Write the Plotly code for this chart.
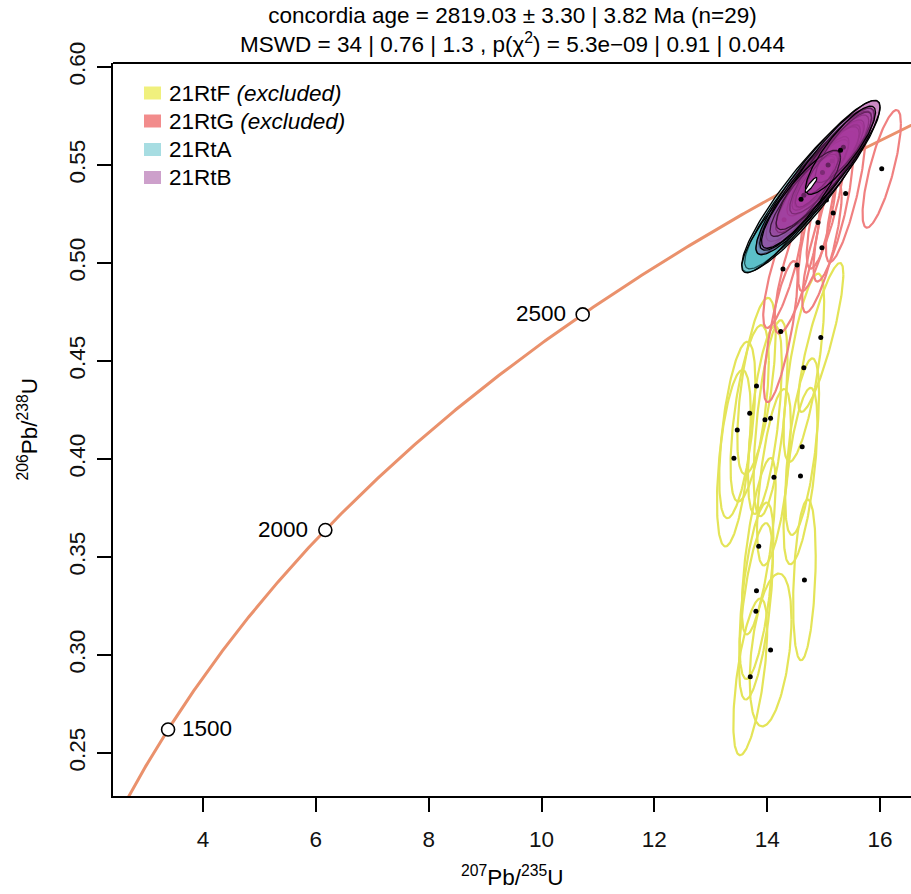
import numpy as np
import plotly.graph_objects as go

# ---------------- data ----------------
# U decay constants (1/yr) used for the concordia curve
LAMBDA_238 = 1.55125e-10
LAMBDA_235 = 9.8485e-10
concordia_span_ma = [1300, 2950]
age_ticks = [1500, 2000, 2500]
age_label_side = ["right", "left", "left"]

# 21RtF (excluded): 207Pb/235U, half-width, 206Pb/238U, half-height, rho
F_x   = [14.95, 14.65, 13.81, 13.69, 13.96, 14.06, 13.47, 14.62, 13.41, 14.12, 14.59, 13.85, 14.66, 13.81, 13.80, 14.06, 13.70]
F_sx  = [0.40, 0.36, 0.34, 0.34, 0.30, 0.30, 0.32, 0.30, 0.30, 0.30, 0.30, 0.30, 0.20, 0.30, 0.30, 0.37, 0.30]
F_y   = [0.4620, 0.4466, 0.4372, 0.4233, 0.4200, 0.4208, 0.4148, 0.4063, 0.4004, 0.3907, 0.3913, 0.3555, 0.3383, 0.3328, 0.3223, 0.3026, 0.2889]
F_sy  = [0.038, 0.048, 0.045, 0.045, 0.048, 0.050, 0.045, 0.045, 0.045, 0.045, 0.045, 0.045, 0.041, 0.045, 0.045, 0.039, 0.040]
F_rho = [0.85, 0.70, 0.60, 0.60, 0.60, 0.60, 0.55, 0.60, 0.50, 0.60, 0.60, 0.70, 0.30, 0.60, 0.60, 0.40, 0.60]

# 21RtG (excluded)
G_x   = [16.03, 15.39, 15.05, 15.17, 14.90, 14.97, 14.28, 14.53, 14.24]
G_sx  = [0.34, 0.35, 0.35, 0.35, 0.35, 0.35, 0.35, 0.40, 0.30]
G_y   = [0.5480, 0.5354, 0.5321, 0.5255, 0.5206, 0.5077, 0.4969, 0.4990, 0.4650]
G_sy  = [0.030, 0.035, 0.035, 0.035, 0.035, 0.033, 0.030, 0.035, 0.036]
G_rho = [0.77, 0.80, 0.80, 0.80, 0.80, 0.80, 0.80, 0.80, 0.77]

# 21RtA
A_x   = [14.72, 14.65, 14.40, 14.85, 14.95, 14.60, 15.05, 14.78, 14.50, 15.10, 14.88, 14.30, 15.00]
A_sx  = [1.17, 1.05, 0.55, 0.62, 0.45, 0.50, 0.40, 0.80, 0.70, 0.55, 0.35, 0.75, 0.65]
A_y   = [0.5372, 0.5345, 0.5270, 0.5416, 0.5450, 0.5330, 0.5495, 0.5390, 0.5295, 0.5510, 0.5425, 0.5220, 0.5470]
A_sy  = [0.0418, 0.0375, 0.0200, 0.0220, 0.0170, 0.0180, 0.0150, 0.0280, 0.0250, 0.0200, 0.0130, 0.0270, 0.0230]
A_rho = [0.91, 0.91, 0.86, 0.86, 0.83, 0.85, 0.82, 0.88, 0.88, 0.86, 0.80, 0.88, 0.87]

# 21RtB
B_x   = [14.90, 15.00, 15.10, 15.20, 14.94, 15.05, 14.75, 15.25, 14.85, 15.15, 14.65, 15.35, 14.98, 15.08, 14.60, 15.30]
B_sx  = [1.10, 0.85, 0.62, 0.45, 0.50, 0.40, 0.88, 0.55, 0.35, 0.75, 0.60, 0.50, 0.30, 0.92, 0.70, 0.62]
B_y   = [0.5435, 0.5465, 0.5505, 0.5535, 0.5449, 0.5495, 0.5380, 0.5555, 0.5415, 0.5520, 0.5345, 0.5590, 0.5462, 0.5500, 0.5325, 0.5575]
B_sy  = [0.0393, 0.0310, 0.0225, 0.0170, 0.0180, 0.0150, 0.0315, 0.0200, 0.0130, 0.0270, 0.0210, 0.0180, 0.0110, 0.0330, 0.0250, 0.0225]
B_rho = [0.91, 0.90, 0.86, 0.83, 0.85, 0.82, 0.89, 0.85, 0.80, 0.88, 0.86, 0.84, 0.78, 0.90, 0.86, 0.86]

# concordia-age ellipse
C_x, C_sx, C_y, C_sy, C_rho = 14.776, 0.106, 0.5398, 0.0038, 0.90

groups = ["21RtF", "21RtG", "21RtA", "21RtB"]
group_excluded = [True, True, False, False]

title_lines = ["concordia age = 2819.03 \u00b1 3.30 | 3.82 Ma (n=29)",
               "MSWD = 34 | 0.76 | 1.3 , p(\u03c7<sup>2</sup>) = 5.3e\u221209 | 0.91 | 0.044"]

x_ticks = [4, 6, 8, 10, 12, 14, 16]
y_ticks = [0.25, 0.30, 0.35, 0.40, 0.45, 0.50, 0.55, 0.60]
y_tick_text = ["0.25", "0.30", "0.35", "0.40", "0.45", "0.50", "0.55", "0.60"]

# ---------------- styling ----------------
FONT = "Liberation Sans, Arial, sans-serif"
FS = 22.5
W, H = 911, 894
ML, MR, MT, MB = 113, 0, 63, 98
X_RANGE = [2.405, 16.549]
Y_RANGE = [0.2281, 0.6020]

col_F_line = "rgb(228,228,88)"
col_G_line = "rgb(240,128,128)"
col_A_fill = "rgba(60,180,190,0.45)"
col_B_fill = "rgba(168,58,158,0.36)"
legend_cols = ["rgb(240,240,125)", "rgb(242,140,140)", "rgb(167,221,226)", "rgb(205,160,203)"]
curve_col = "rgb(234,145,108)"


def ellipse(cx, ax, cy, ay, rho, n=160):
    t = np.linspace(0, 2 * np.pi, n)
    phi = np.arccos(rho)
    return cx + ax * np.cos(t), cy + ay * np.cos(t - phi)


fig = go.Figure()

# concordia curve
ages = np.linspace(concordia_span_ma[0], concordia_span_ma[1], 400) * 1e6
cx_curve = np.exp(LAMBDA_235 * ages) - 1
cy_curve = np.exp(LAMBDA_238 * ages) - 1
fig.add_trace(go.Scatter(x=cx_curve, y=cy_curve, mode="lines",
                         line=dict(color=curve_col, width=3), hoverinfo="skip", showlegend=False))

# excluded outlines
for xs, sxs, ys, sys_, rhos, col in [(F_x, F_sx, F_y, F_sy, F_rho, col_F_line),
                                     (G_x, G_sx, G_y, G_sy, G_rho, col_G_line)]:
    for cx, sx, cy, sy, r in zip(xs, sxs, ys, sys_, rhos):
        ex, ey = ellipse(cx, sx, cy, sy, r)
        fig.add_trace(go.Scatter(x=ex, y=ey, mode="lines", line=dict(color=col, width=2.2),
                                 hoverinfo="skip", showlegend=False))
    fig.add_trace(go.Scatter(x=xs, y=ys, mode="markers",
                             marker=dict(color="black", size=5), hoverinfo="skip", showlegend=False))

# included filled ellipses, each followed by its centre dot
for xs, sxs, ys, sys_, rhos, fc in [(A_x, A_sx, A_y, A_sy, A_rho, col_A_fill),
                                    (B_x, B_sx, B_y, B_sy, B_rho, col_B_fill)]:
    for cx, sx, cy, sy, r in zip(xs, sxs, ys, sys_, rhos):
        ex, ey = ellipse(cx, sx, cy, sy, r)
        fig.add_trace(go.Scatter(x=ex, y=ey, mode="lines", fill="toself", fillcolor=fc,
                                 line=dict(color="black", width=1.3),
                                 hoverinfo="skip", showlegend=False))
        fig.add_trace(go.Scatter(x=[cx], y=[cy], mode="markers",
                                 marker=dict(color="black", size=5), hoverinfo="skip",
                                 showlegend=False))

# concordia age ellipse
ex, ey = ellipse(C_x, C_sx, C_y, C_sy, C_rho)
fig.add_trace(go.Scatter(x=ex, y=ey, mode="lines", fill="toself", fillcolor="white",
                         line=dict(color="black", width=1.2), hoverinfo="skip", showlegend=False))

# age tick markers on concordia
tick_t = np.array(age_ticks, dtype=float) * 1e6
tx = np.exp(LAMBDA_235 * tick_t) - 1
ty = np.exp(LAMBDA_238 * tick_t) - 1
fig.add_trace(go.Scatter(x=tx, y=ty, mode="markers",
                         marker=dict(symbol="circle", size=13, color="white",
                                     line=dict(color="black", width=1.6)),
                         hoverinfo="skip", showlegend=False))
for a, x0, y0, side in zip(age_ticks, tx, ty, age_label_side):
    fig.add_annotation(x=x0, y=y0, xref="x", yref="y", text=str(a), showarrow=False,
                       xanchor="left" if side == "right" else "right",
                       xshift=12 if side == "right" else -15, yshift=1,
                       font=dict(family=FONT, size=FS, color="black"))

# manual legend (positions in page pixels)
PW = W - ML - MR
PH = H - MT - MB
plot_left = ML
plot_bottom = H - MB
rows_py = [93, 121, 149.5, 177.5]
for g, exc, col, py in zip(groups, group_excluded, legend_cols, rows_py):
    fig.add_shape(type="rect", xref="paper", yref="paper",
                  x0=(144 - plot_left) / PW, x1=(161 - plot_left) / PW,
                  y0=(plot_bottom - (py + 6.5)) / PH, y1=(plot_bottom - (py - 6.5)) / PH,
                  fillcolor=col, line=dict(width=0))
    txt = g + (" <i>(excluded)</i>" if exc else "")
    fig.add_annotation(xref="paper", yref="paper", x=(167 - plot_left) / PW,
                       y=(plot_bottom - py) / PH,
                       text=txt, showarrow=False, xanchor="left", yanchor="middle",
                       font=dict(family=FONT, size=FS, color="black"))

# top frame line
fig.add_shape(type="line", xref="paper", yref="paper", x0=0, x1=1, y0=1, y1=1,
              line=dict(color="black", width=2))

# title
fig.add_annotation(xref="paper", yref="paper", x=0.5, y=1, yanchor="bottom", yshift=4,
                   text="<br>".join(title_lines), showarrow=False, align="center",
                   font=dict(family=FONT, size=FS, color="black"))
# axis titles
fig.add_annotation(xref="paper", yref="paper", x=0.5, y=0, yanchor="middle", yshift=-80,
                   text="<sup>207</sup>Pb/<sup>235</sup>U", showarrow=False,
                   font=dict(family=FONT, size=FS, color="black"))
fig.add_annotation(xref="paper", yref="paper", x=0, y=0.5, xanchor="center", xshift=-86,
                   text="<sup>206</sup>Pb/<sup>238</sup>U", showarrow=False, textangle=-90,
                   font=dict(family=FONT, size=FS, color="black"))

fig.update_layout(
    width=W, height=H, margin=dict(l=ML, r=MR, t=MT, b=MB, autoexpand=False),
    paper_bgcolor="white", plot_bgcolor="white", showlegend=False,
    font=dict(family=FONT, size=FS, color="black"),
    xaxis=dict(range=X_RANGE, tickmode="array", tickvals=x_ticks, ticks="outside",
               ticklen=14, tickwidth=1.5, tickcolor="black", showline=True, linecolor="black",
               linewidth=2, showgrid=False, zeroline=False, ticklabelstandoff=8,
               automargin=False, tickfont=dict(family=FONT, size=FS, color="#111")),
    yaxis=dict(range=Y_RANGE, tickmode="array", tickvals=y_ticks, ticktext=y_tick_text,
               ticks="outside", ticklen=14, tickwidth=1.5, tickcolor="black",
               showline=True, linecolor="black", linewidth=2, showgrid=False, zeroline=False,
               tickangle=-90, ticklabelstandoff=3, automargin=False,
               tickfont=dict(family=FONT, size=FS, color="#111")),
)

fig.write_html("out.html", config={"displayModeBar": False},
               post_script="document.body.style.margin='0px';document.body.style.overflow='hidden';")
